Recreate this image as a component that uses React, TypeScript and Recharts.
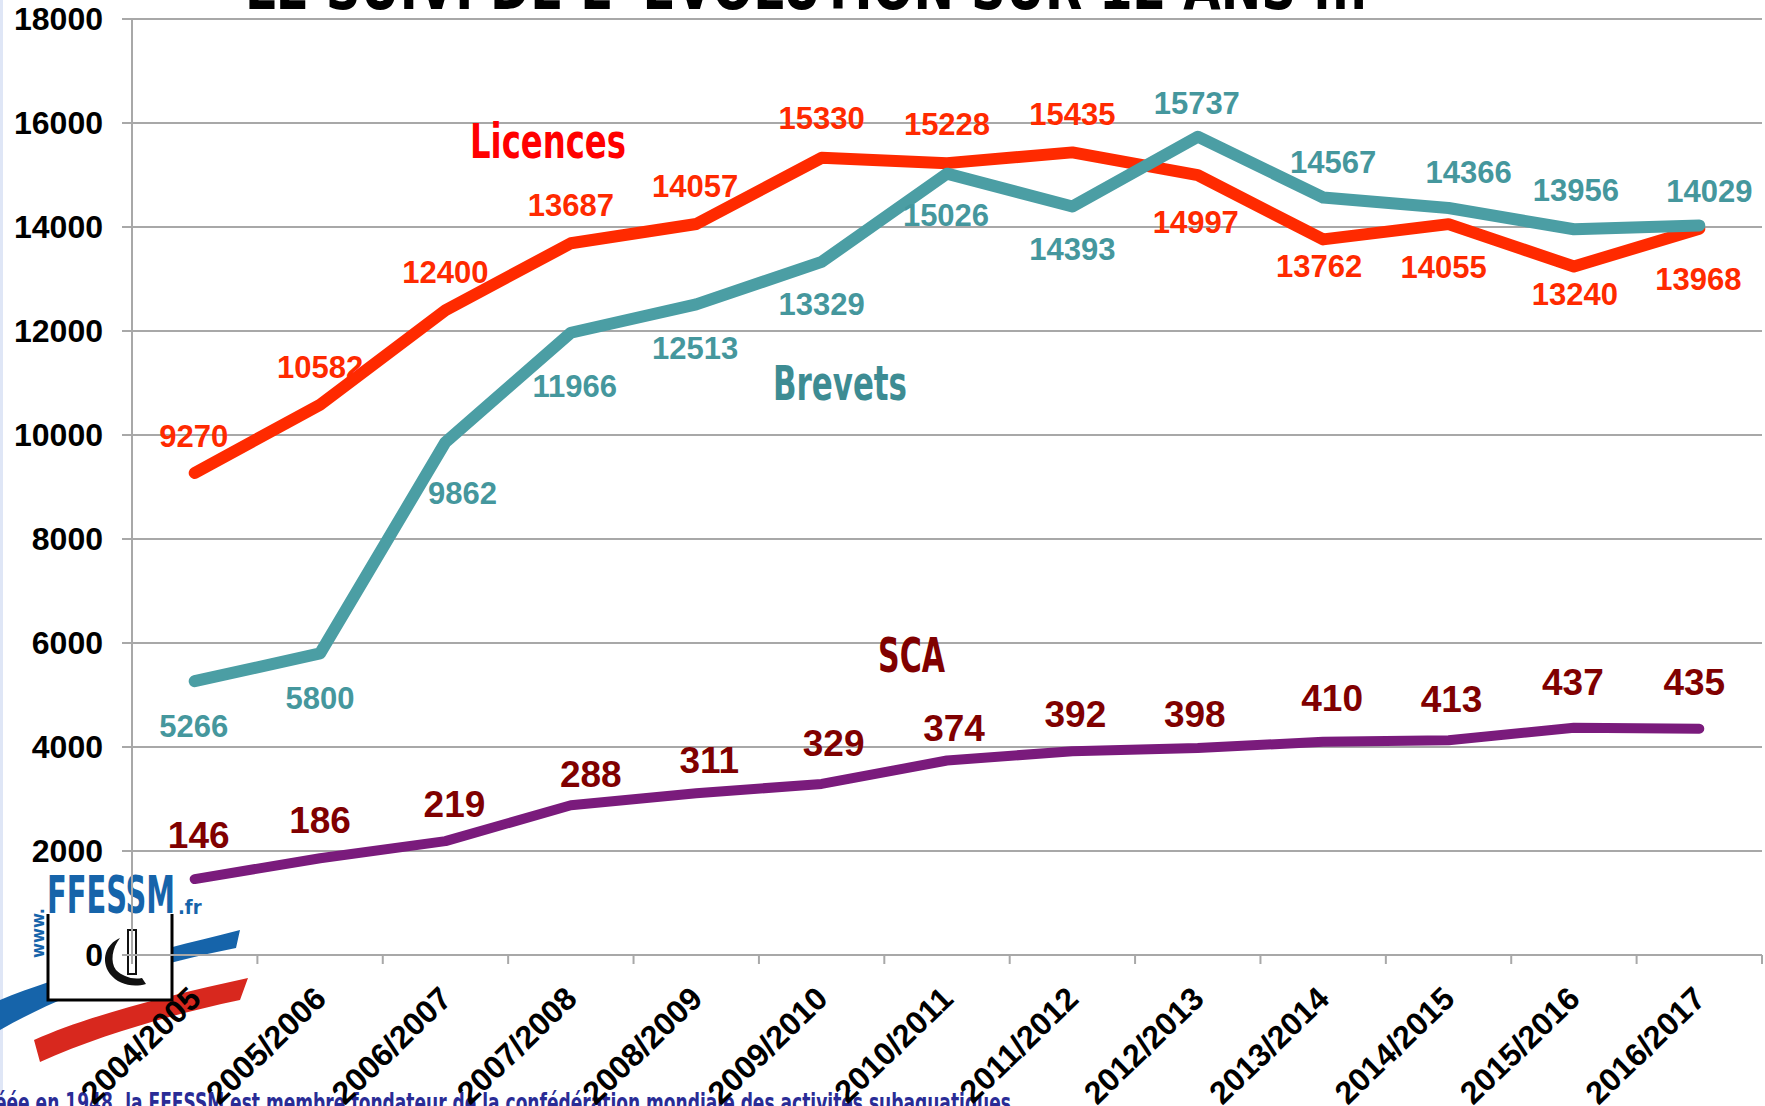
import React from "react";
import {
  LineChart,
  Line,
  XAxis,
  YAxis,
  CartesianGrid,
  LabelList,
} from "recharts";

const categories = [
  "2004/2005",
  "2005/2006",
  "2006/2007",
  "2007/2008",
  "2008/2009",
  "2009/2010",
  "2010/2011",
  "2011/2012",
  "2012/2013",
  "2013/2014",
  "2014/2015",
  "2015/2016",
  "2016/2017",
];
const licences = [9270, 10582, 12400, 13687, 14057, 15330, 15228, 15435, 14997, 13762, 14055, 13240, 13968];
const brevets = [5266, 5800, 9862, 11966, 12513, 13329, 15026, 14393, 15737, 14567, 14366, 13956, 14029];
const sca = [146, 186, 219, 288, 311, 329, 374, 392, 398, 410, 413, 437, 435];
// SCA is drawn x10 so it reads on the same axis
const SCA_SCALE = 10;
const yTicks = [0, 2000, 4000, 6000, 8000, 10000, 12000, 14000, 16000, 18000];

// label offsets (dx, dy) from each point, in px
const licOffsets = [
  [-1, -36], [0, -37], [0, -38], [0, -38], [-1, -38], [0, -39], [0, -39],
  [0, -38], [-2, 47], [-4, 27], [-5, 43], [1, 28], [-1, 51],
];
const brevOffsets = [
  [-1, 45], [0, 45], [17, 51], [4, 54], [-1, 44], [0, 43], [-1, 42],
  [0, 43], [-1, -33], [10, -35], [20, -35], [2, -39], [10, -34],
];
const scaOffsets = [
  [4, -44], [0, -38], [9, -37], [20, -31], [13, -33], [12, -40], [7, -32],
  [3, -37], [-3, -34], [9, -43], [3, -41], [-1, -45], [-5, -46],
];

const data = categories.map((cat, i) => ({
  idx: i,
  cat,
  licences: licences[i],
  brevets: brevets[i],
  sca: sca[i] * SCA_SCALE,
}));

const W = 1765;
const H = 1106;
const LEFT = 132;
const RIGHT = 3;
const TOP = 19;
const XH = 151;
const HALF = (W - LEFT - RIGHT) / categories.length / 2;

const NUM_FONT = "'Liberation Sans', Arial, sans-serif";
const COND_FONT = "'DejaVu Sans Condensed', 'Liberation Sans Narrow', sans-serif";
const GRID = "#a8a8a8";

const makeLabel =
  (offsets: number[][], values: number[], color: string, size: number) =>
  (props: any) => {
    const { x, y, index } = props;
    if (typeof index !== "number") return null;
    const [dx, dy] = offsets[index];
    return (
      <text
        x={Number(x) + dx}
        y={Number(y) + dy}
        fill={color}
        fontSize={size}
        fontWeight="bold"
        fontFamily={NUM_FONT}
        textAnchor="middle"
        dominantBaseline="central"
      >
        {values[index]}
      </text>
    );
  };

const XTick = (props: any) => {
  const { x, y, payload } = props;
  const i = payload.value as number;
  const tx = x + 8;
  const ty = y + 46;
  return (
    <g>
      <line x1={x - HALF} y1={y} x2={x - HALF} y2={y + 9} stroke={GRID} strokeWidth={2} />
      {i === categories.length - 1 && (
        <line x1={x + HALF} y1={y} x2={x + HALF} y2={y + 9} stroke={GRID} strokeWidth={2} />
      )}
      <text
        x={tx}
        y={ty}
        transform={`rotate(-44, ${tx}, ${ty})`}
        textAnchor="end"
        fill="#000"
        fontSize={32}
        fontWeight="bold"
        fontFamily={NUM_FONT}
      >
        {categories[i]}
      </text>
    </g>
  );
};

const Background = () => (
  <svg width={W} height={H} style={{ position: "absolute", left: 0, top: 0 }}>
    <rect x={0} y={0} width={3} height={H} fill="#dfe6f6" />
    {/* logo */}
    <path d="M0,1000 C60,975 140,955 240,930 L236,948 C150,965 70,990 0,1030 Z" fill="#1664aa" />
    <path d="M34,1040 C90,1015 170,995 248,978 L240,1000 C170,1015 100,1035 40,1062 Z" fill="#d8281e" />
    <rect x={48} y={912} width={124} height={88} fill="#fff" stroke="#000" strokeWidth={3} />
    <rect x={46} y={905} width={128} height={9} fill="#fff" />
    <text x={47} y={913} fontSize={52} fontWeight="bold" fontFamily={COND_FONT} fill="#1664aa" textLength={128} lengthAdjust="spacingAndGlyphs">
      FFESSM
    </text>
    <text x={178} y={914} fontSize={20} fontWeight="bold" fontFamily={COND_FONT} fill="#1664aa">
      .fr
    </text>
    <text x={0} y={0} transform="translate(44, 958) rotate(-90)" fontSize={18} fontWeight="bold" fontFamily={COND_FONT} fill="#1664aa">
      www.
    </text>
    <path d="M120,938 c-14,6 -20,22 -10,36 c8,10 22,14 36,10 l-4,-6 c-10,2 -20,-2 -26,-8 c-6,-8 -4,-22 4,-32 Z" fill="#111" />
    <rect x={128} y={930} width={8} height={44} fill="#fff" stroke="#111" strokeWidth={2} />
    {/* footer */}
    <text x={-26} y={1112} fontSize={27} fontWeight="bold" fontFamily={COND_FONT} fill="#2a2c96" textLength={1037} lengthAdjust="spacingAndGlyphs">
      Créée en 1948, la FFESSM est membre fondateur de la confédération mondiale des activités subaquatiques
    </text>
  </svg>
);

const Overlay = () => (
  <svg width={W} height={H} style={{ position: "absolute", left: 0, top: 0, pointerEvents: "none" }}>
    <text x={245} y={9} fontSize={62} fontWeight="bold" fontFamily={COND_FONT} fill="#000" textLength={1123} lengthAdjust="spacingAndGlyphs">
      LE SUIVI DE L' EVOLUTION SUR 12 ANS ...
    </text>
    <text x={470} y={158} fontSize={48} fontWeight="bold" fontFamily={COND_FONT} fill="#ff0000" textLength={156} lengthAdjust="spacingAndGlyphs">
      Licences
    </text>
    <text x={773} y={400} fontSize={48} fontWeight="bold" fontFamily={COND_FONT} fill="#3d8c93" textLength={134} lengthAdjust="spacingAndGlyphs">
      Brevets
    </text>
    <text x={878} y={672} fontSize={48} fontWeight="bold" fontFamily={COND_FONT} fill="#800000" textLength={67} lengthAdjust="spacingAndGlyphs">
      SCA
    </text>
  </svg>
);

const App: React.FC = () => (
  <div
    style={{
      position: "absolute",
      left: 0,
      top: 0,
      width: W,
      height: H,
      overflow: "hidden",
      background: "#fff",
    }}
  >
    <Background />
    <div style={{ position: "absolute", left: 0, top: 0 }}>
      <LineChart
        width={W}
        height={H}
        data={data}
        margin={{ top: TOP, right: RIGHT, left: 0, bottom: 0 }}
      >
        <CartesianGrid horizontal vertical={false} stroke={GRID} strokeWidth={2} />
        <XAxis
          dataKey="idx"
          type="number"
          domain={[-0.5, categories.length - 0.5]}
          ticks={data.map((d) => d.idx)}
          interval={0}
          height={XH}
          tickLine={false}
          tickSize={0}
          tickMargin={0}
          axisLine={{ stroke: GRID, strokeWidth: 2 }}
          tick={<XTick />}
        />
        <YAxis
          width={LEFT}
          domain={[0, 18000]}
          ticks={yTicks}
          interval={0}
          tickSize={10}
          tickMargin={19}
          tickLine={{ stroke: GRID, strokeWidth: 2 }}
          axisLine={{ stroke: GRID, strokeWidth: 2 }}
          tick={{ fill: "#000", fontSize: 32, fontWeight: "bold", fontFamily: NUM_FONT }}
        />
        {/* labels first so the lines pass over them */}
        <Line dataKey="licences" stroke="none" dot={false} activeDot={false} isAnimationActive={false}>
          <LabelList content={makeLabel(licOffsets, licences, "#ff2a00", 31)} />
        </Line>
        <Line dataKey="brevets" stroke="none" dot={false} activeDot={false} isAnimationActive={false}>
          <LabelList content={makeLabel(brevOffsets, brevets, "#45979d", 31)} />
        </Line>
        <Line dataKey="sca" stroke="none" dot={false} activeDot={false} isAnimationActive={false}>
          <LabelList content={makeLabel(scaOffsets, sca, "#800000", 37)} />
        </Line>
        <Line
          dataKey="licences"
          stroke="#ff2a00"
          strokeWidth={12}
          strokeLinecap="round"
          strokeLinejoin="round"
          dot={false}
          activeDot={false}
          isAnimationActive={false}
        />
        <Line
          dataKey="brevets"
          stroke="#4b9ea4"
          strokeWidth={12}
          strokeLinecap="round"
          strokeLinejoin="round"
          dot={false}
          activeDot={false}
          isAnimationActive={false}
        />
        <Line
          dataKey="sca"
          stroke="#7a1b7c"
          strokeWidth={10}
          strokeLinecap="round"
          strokeLinejoin="round"
          dot={false}
          activeDot={false}
          isAnimationActive={false}
        />
      </LineChart>
    </div>
    <Overlay />
  </div>
);

export default App;
